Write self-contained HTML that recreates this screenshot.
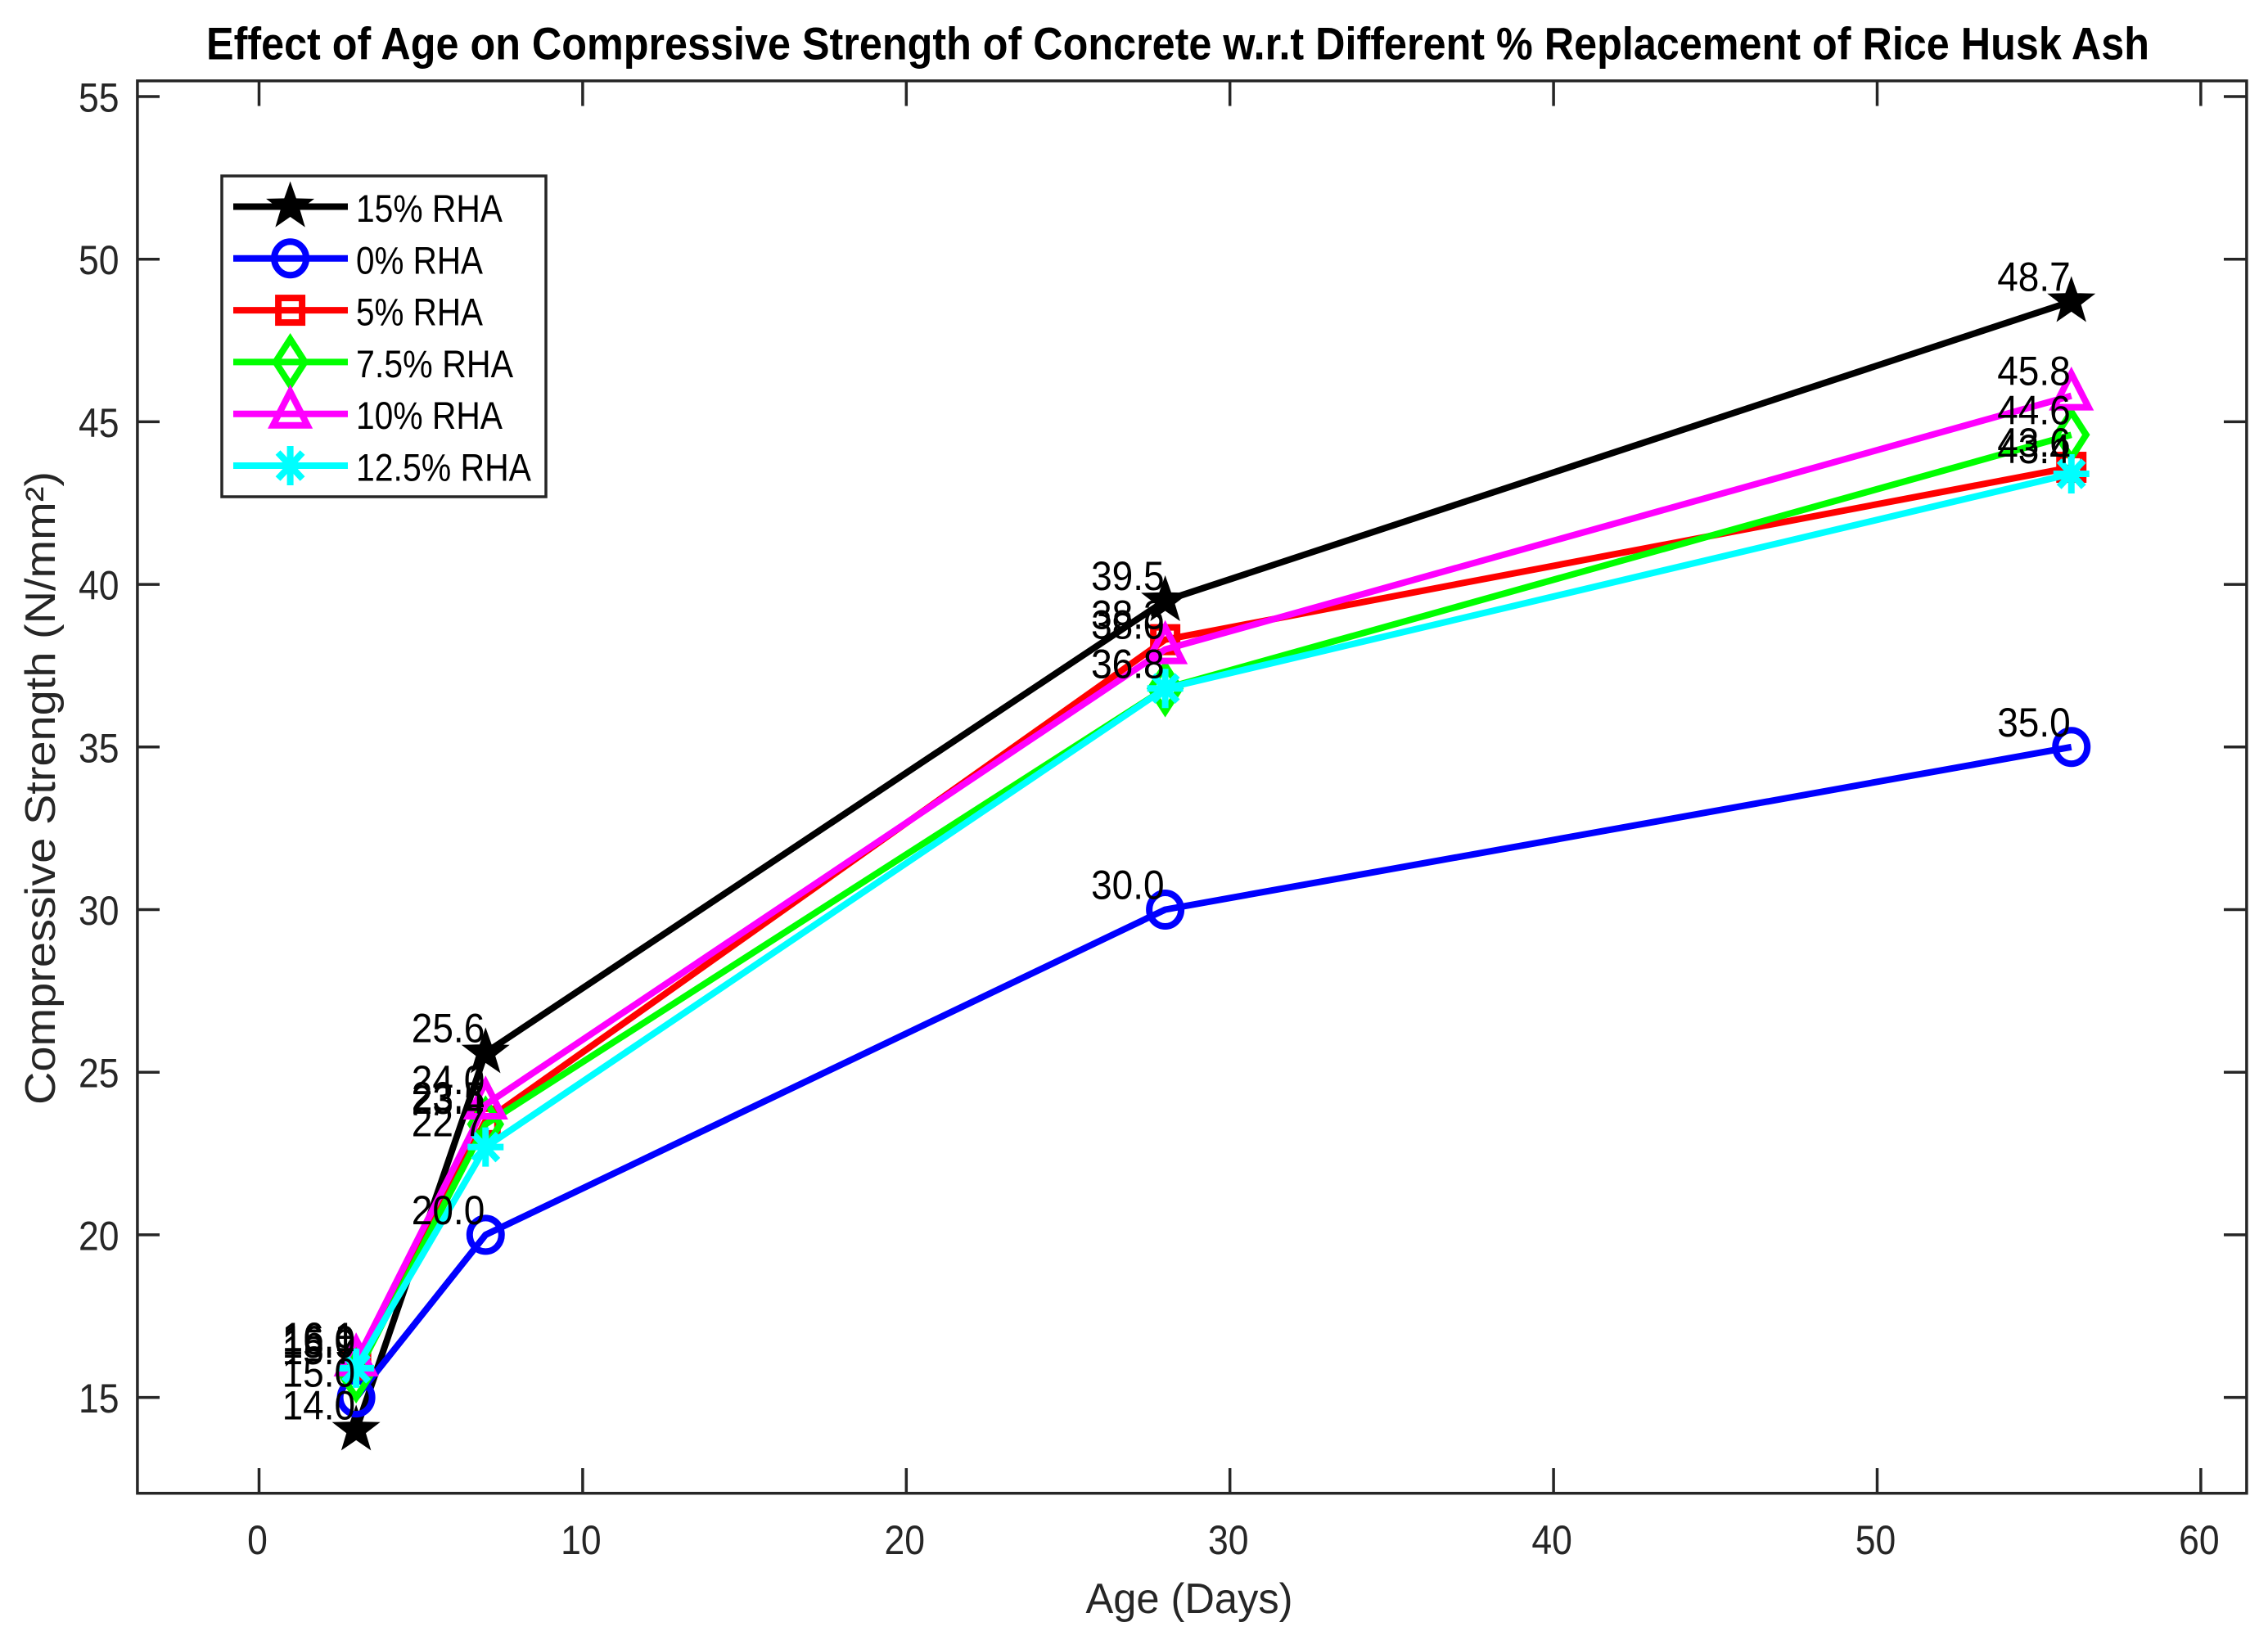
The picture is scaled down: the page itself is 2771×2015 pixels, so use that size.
<!DOCTYPE html>
<html lang="en">
<head>
<meta charset="utf-8">
<title>Effect of Age on Compressive Strength of Concrete</title>
<style>
html,body{margin:0;padding:0;background:#fff;}
svg{display:block;font-family:"Liberation Sans",Arial,sans-serif;}
</style>
</head>
<body>
<svg id="chart" xmlns="http://www.w3.org/2000/svg" width="2771" height="2015" viewBox="0 0 2771 2015">
  <rect x="0" y="0" width="2771" height="2015" fill="#fff"/>
  <text x="1439" y="72.6" font-size="56" font-weight="bold" fill="#000" text-anchor="middle" textLength="2374" lengthAdjust="spacingAndGlyphs">Effect of Age on Compressive Strength of Concrete w.r.t Different % Replacement of Rice Husk Ash</text>
  <rect x="167.9" y="98.8" width="2577" height="1725.9" fill="none" stroke="#262626" stroke-width="3.5"/>
  <g id="ticks"></g>
  <g id="series"></g>
  <g id="labels"></g>
  <text x="1453" y="1971" font-size="52" fill="#262626" text-anchor="middle" textLength="253" lengthAdjust="spacingAndGlyphs">Age (Days)</text>
  <text transform="translate(67,963) rotate(-90)" font-size="52" fill="#262626" text-anchor="middle" textLength="774" lengthAdjust="spacingAndGlyphs">Compressive Strength (N/mm²)</text>
  <g id="legend">
    <rect x="271" y="215" width="396" height="392" fill="#fff" stroke="#262626" stroke-width="3.5"/>
  </g>
</svg>
<script>
const ages = [3, 7, 28, 56];
const rha15 = [14.0, 25.6, 39.5, 48.7];
const rha0 = [15.0, 20.0, 30.0, 35.0];
const rha5 = [16.0, 23.5, 38.3, 43.6];
const rha75 = [15.7, 23.4, 36.8, 44.6];
const rha10 = [16.1, 24.0, 38.0, 45.8];
const rha125 = [15.9, 22.7, 36.8, 43.4];
const seriesNames = ['15% RHA', '0% RHA', '5% RHA', '7.5% RHA', '10% RHA', '12.5% RHA'];
const seriesValues = [rha15, rha0, rha5, rha75, rha10, rha125];
const seriesColors = ['#000000', '#0000ff', '#ff0000', '#00ff00', '#ff00ff', '#00ffff'];
const seriesMarkers = ['star', 'circle', 'square', 'diamond', 'triangle', 'asterisk'];
const xTickValues = [0, 10, 20, 30, 40, 50, 60];
const yTickValues = [15, 20, 25, 30, 35, 40, 45, 50, 55];

const NS = 'http://www.w3.org/2000/svg';
const AXIS = '#262626';
const TICK_SQUEEZE = 0.89;
const DATA_SQUEEZE = 0.92;
function xScale(v) { return 316.5 + 39.54 * v; }
function yScale(v) { return 118 + (55 - v) * 39.74; }
function make(tag, attrs, parent) {
  const n = document.createElementNS(NS, tag);
  for (const k in attrs) n.setAttribute(k, attrs[k]);
  parent.appendChild(n);
  return n;
}
function makeLabel(str, x, y, size, anchor, fill, squeeze, parent) {
  const t = make('text', {transform: 'translate(' + x + ',' + y + ') scale(' + squeeze + ',1)', 'font-size': size, 'text-anchor': anchor, fill: fill}, parent);
  t.textContent = str;
  return t;
}
function drawMarker(kind, color, cx, cy, parent) {
  const g = make('g', {transform: 'translate(' + cx + ',' + cy + ')'}, parent);
  if (kind === 'star') {
    let pts = '';
    for (let i = 0; i < 10; i++) {
      const r = i % 2 ? 12.5 : 31;
      const a = -Math.PI / 2 + i * Math.PI / 5;
      pts += (r * Math.cos(a)).toFixed(2) + ',' + (r * Math.sin(a)).toFixed(2) + ' ';
    }
    make('polygon', {points: pts, fill: color}, g);
  } else if (kind === 'circle') {
    make('ellipse', {cx: 0, cy: 0, rx: 19.5, ry: 20.5, fill: 'none', stroke: color, 'stroke-width': 8}, g);
  } else if (kind === 'square') {
    make('rect', {x: -14.5, y: -15, width: 29, height: 30, fill: 'none', stroke: color, 'stroke-width': 8}, g);
  } else if (kind === 'diamond') {
    make('polygon', {points: '0,-28 18,0 0,28 -18,0', fill: 'none', stroke: color, 'stroke-width': 8}, g);
  } else if (kind === 'triangle') {
    make('polygon', {points: '0,-27 21,14 -21,14', fill: 'none', stroke: color, 'stroke-width': 8}, g);
  } else {
    make('line', {x1: 0, y1: -24, x2: 0, y2: 24, stroke: color, 'stroke-width': 8}, g);
    make('line', {x1: -22, y1: 0, x2: 22, y2: 0, stroke: color, 'stroke-width': 8}, g);
    make('line', {x1: -15, y1: -16, x2: 15, y2: 16, stroke: color, 'stroke-width': 8}, g);
    make('line', {x1: -15, y1: 16, x2: 15, y2: -16, stroke: color, 'stroke-width': 8}, g);
  }
  return g;
}

const tickLayer = document.getElementById('ticks');
xTickValues.forEach(function (v) {
  const px = xScale(v);
  const bottomTick = make('line', {x1: px, y1: 1824.7, x2: px, y2: 1794, stroke: AXIS, 'stroke-width': 3.5}, tickLayer);
  
  
  const topTick = make('line', {x1: px, y1: 98.8, x2: px, y2: 129.5, stroke: AXIS, 'stroke-width': 3.5}, tickLayer);
  
  
  const lab = makeLabel(String(v), px - 2, 1899, 50, 'middle', AXIS, TICK_SQUEEZE, tickLayer);
  
  
});
yTickValues.forEach(function (v) {
  const py = yScale(v);
  const leftTick = make('line', {x1: 167.9, y1: py, x2: 195, y2: py, stroke: AXIS, 'stroke-width': 3.5}, tickLayer);
  
  
  const rightTick = make('line', {x1: 2744.9, y1: py, x2: 2717, y2: py, stroke: AXIS, 'stroke-width': 3.5}, tickLayer);
  
  
  const lab = makeLabel(String(v), 145.5, py + 18.5, 50, 'end', AXIS, TICK_SQUEEZE, tickLayer);
  
  
});

const seriesLayer = document.getElementById('series');
const labelLayer = document.getElementById('labels');
seriesValues.forEach(function (vals, si) {
  const color = seriesColors[si];
  const group = make('g', {}, seriesLayer);
  
  
  const pts = vals.map(function (v, i) { return xScale(ages[i]) + ',' + yScale(v); }).join(' ');
  const line = make('polyline', {points: pts, fill: 'none', stroke: color, 'stroke-width': 8, 'stroke-linejoin': 'round'}, group);
  
  
  vals.forEach(function (v, i) {
    const m = drawMarker(seriesMarkers[si], color, xScale(ages[i]), yScale(v), group);
    
    
    const t = makeLabel(v.toFixed(1), xScale(ages[i]) - 1, yScale(v) - 13, 50, 'end', '#000', DATA_SQUEEZE, labelLayer);
    
    
  });
});

const legendLayer = document.getElementById('legend');
const legendRowStep = 63.3;
seriesNames.forEach(function (name, si) {
  const rowY = 252.5 + si * legendRowStep;
  const row = make('g', {}, legendLayer);
  
  
  const ln = make('line', {x1: 285, y1: rowY, x2: 425, y2: rowY, stroke: seriesColors[si], 'stroke-width': 8}, row);
  
  
  const mk = drawMarker(seriesMarkers[si], seriesColors[si], 354.6, rowY, row);
  
  
  const tx = make('text', {x: 435, y: rowY + 18.5, 'font-size': 47, fill: '#000', textLength: (name.length > 8 ? 214 : name.length > 7 ? 192 : name.length > 6 ? 179 : 155), lengthAdjust: 'spacingAndGlyphs'}, row);
  tx.textContent = name;
  
  
});
</script>
</body>
</html>
